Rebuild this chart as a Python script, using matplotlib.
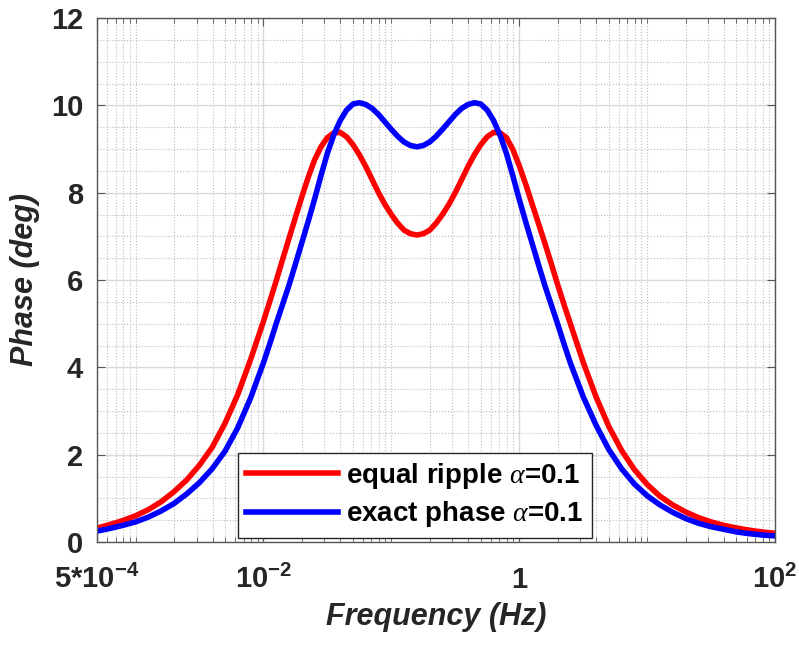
import numpy as np
import matplotlib.pyplot as plt
from matplotlib.ticker import FixedLocator, LogLocator, MultipleLocator, NullFormatter

plt.rcParams['font.family'] = ['Liberation Sans', 'DejaVu Sans']
plt.rcParams['mathtext.fontset'] = 'custom'
plt.rcParams['mathtext.rm'] = 'Liberation Sans:bold'
plt.rcParams['mathtext.bf'] = 'Liberation Sans:bold'
plt.rcParams['mathtext.it'] = 'Liberation Serif:italic'

# log10 of frequency (Hz): coarse on the tails, finer across the bumps
log_freq = np.round(np.concatenate([np.arange(-3.3, -1.99, 0.1),
                                    np.arange(-1.95, 0.41, 0.05),
                                    np.arange(0.5, 2.01, 0.1)]), 2)
freq = 10 ** log_freq

# phase (deg)
equal_ripple = [0.32, 0.40, 0.49, 0.60, 0.74, 0.92, 1.15, 1.42, 1.76, 2.17,
                2.72, 3.38, 4.18, 5.05,
                5.51, 5.98, 6.47, 6.95, 7.43, 7.90, 8.35, 8.75, 9.05, 9.26,
                9.37, 9.38, 9.28, 9.10, 8.87, 8.60, 8.30, 8.00, 7.73, 7.50,
                7.30, 7.14, 7.06, 7.03, 7.06, 7.14, 7.30, 7.50, 7.73, 8.00,
                8.30, 8.60, 8.87, 9.10, 9.28, 9.38, 9.37, 9.26, 8.99, 8.62,
                8.20, 7.75, 7.30, 6.85, 6.38, 5.90, 5.44, 5.00,
                4.12, 3.33, 2.65, 2.10, 1.66, 1.32, 1.05, 0.85, 0.69, 0.56,
                0.46, 0.38, 0.32, 0.27, 0.23, 0.20]
exact_phase = [0.25, 0.31, 0.38, 0.46, 0.57, 0.71, 0.88, 1.10, 1.36, 1.68,
               2.08, 2.62, 3.30, 4.10,
               4.54, 5.00, 5.44, 5.88, 6.36, 6.85, 7.34, 7.85, 8.39, 8.90,
               9.32, 9.65, 9.89, 10.03, 10.06, 10.02, 9.93, 9.79, 9.62, 9.45,
               9.29, 9.16, 9.08, 9.05, 9.08, 9.16, 9.29, 9.45, 9.62, 9.79,
               9.93, 10.02, 10.06, 10.03, 9.89, 9.65, 9.32, 8.90, 8.39, 7.85,
               7.34, 6.85, 6.36, 5.88, 5.44, 5.00, 4.54, 4.10,
               3.33, 2.68, 2.12, 1.68, 1.33, 1.06, 0.85, 0.68, 0.54, 0.43,
               0.35, 0.29, 0.23, 0.19, 0.16, 0.14]

xtick_vals = [5e-4, 1e-2, 1, 1e2]
xtick_labels = [r'5*$\mathbf{10^{-4}}$', r'$\mathbf{10^{-2}}$', '1', r'$\mathbf{10^{2}}$']
labels = [r'equal ripple $\alpha$=0.1', r'exact phase $\alpha$=0.1']

fig = plt.figure(figsize=(7.99, 6.45), dpi=100)
ax = fig.add_axes([97 / 799, 1 - 542 / 645, 678 / 799, 524 / 645])

ax.semilogx(freq, equal_ripple, color='#ff0000', lw=4.0, label=labels[0])
ax.semilogx(freq, exact_phase, color='#0000ff', lw=4.0, label=labels[1])

ax.set_xlim(5e-4, 100)
ax.set_ylim(0, 12)
ax.xaxis.set_major_locator(FixedLocator(xtick_vals))
ax.set_xticklabels(xtick_labels)
ax.xaxis.set_minor_locator(LogLocator(base=10, subs=np.arange(1, 10), numticks=20))
ax.xaxis.set_minor_formatter(NullFormatter())
ax.yaxis.set_major_locator(MultipleLocator(2))
ax.yaxis.set_minor_locator(MultipleLocator(0.5))

gray = '#262626'
ax.grid(True, which='major', color='#d9d9d9', lw=1.0, ls='-')
ax.grid(True, which='minor', color='#bdbdbd', lw=0.8, ls=':')
ax.set_axisbelow(True)

ax.tick_params(which='both', direction='in', top=True, right=True, colors='#555555')
ax.tick_params(axis='x', which='major', length=6, pad=27, labelsize=21, labelcolor=gray)
ax.tick_params(axis='x', which='minor', length=3.5)
ax.tick_params(axis='y', which='major', length=6, pad=10, labelsize=21, labelcolor=gray)
ax.tick_params(axis='y', which='minor', length=0)
for lbl in ax.get_xticklabels() + ax.get_yticklabels():
    lbl.set_fontweight('bold')
for lbl in ax.get_xticklabels():
    lbl.set_verticalalignment('center')

for sp in ax.spines.values():
    sp.set_color('#555555')
    sp.set_linewidth(1.0)

ax.set_xlabel('Frequency (Hz)', fontsize=22, fontweight='bold', style='italic', color=gray, labelpad=6)
ax.set_ylabel('Phase (deg)', fontsize=22, fontweight='bold', style='italic', color=gray, labelpad=8)

leg = ax.legend(loc='lower left', bbox_to_anchor=(0.208, 0.008),
                prop={'weight': 'bold', 'size': 20}, fancybox=False, framealpha=1,
                edgecolor='#262626', borderaxespad=0, handlelength=3.3, borderpad=0.3,
                labelspacing=0.3, handletextpad=0.3)
leg.get_frame().set_linewidth(1.0)

fig.savefig('out.png', dpi=100)
